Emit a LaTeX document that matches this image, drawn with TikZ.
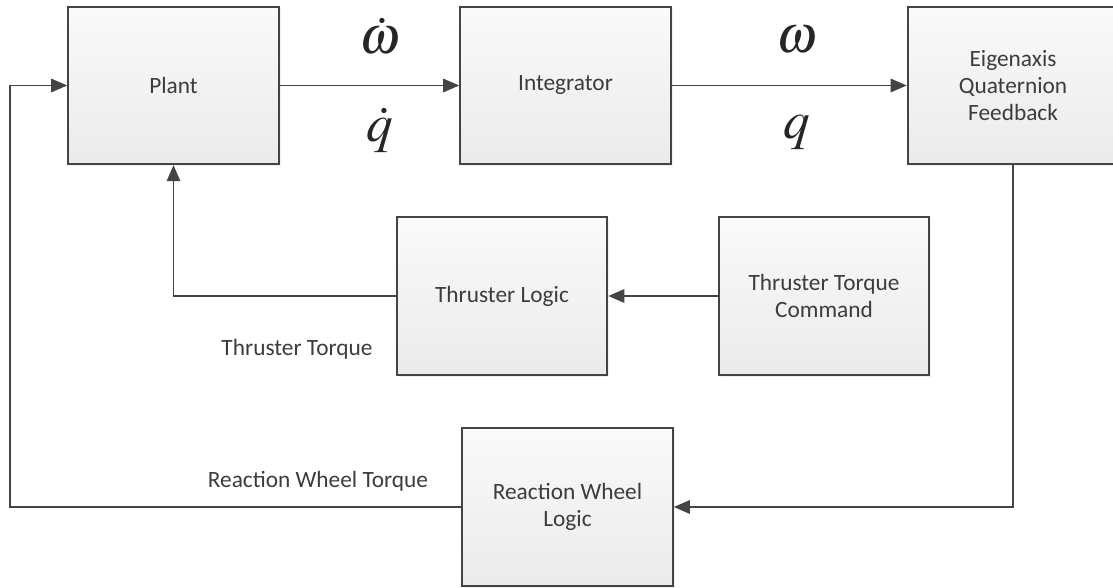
\documentclass[tikz,border=0pt]{standalone}
\usepackage{amsmath}
\usepackage{mathptmx}
\usepackage{fontspec}
\setmainfont{Carlito}
\usepackage{xcolor}
\usepackage{tikz}
\usetikzlibrary{arrows.meta,positioning,shadows}

\definecolor{edgegray}{HTML}{444444}
\definecolor{textgray}{HTML}{3C3C3C}

\begin{document}
\begin{tikzpicture}[
        x=0.75pt, y=-0.75pt,
        block/.style={
            draw=edgegray,
            line width=1.4pt,
            align=center,
            text=textgray,
            font=\fontsize{17.5}{20}\selectfont,
            minimum height=118pt,
            minimum width=158pt,
            top color=black!2,
            bottom color=black!8,
            drop shadow={shadow xshift=1.5pt, shadow yshift=-1.5pt, opacity=0.12}
        },
        arrow/.style={
            -{Triangle[length=12pt,width=10pt]},
            draw=edgegray,
            line width=1.4pt
        },
        sig/.style={
            text=black!85,
            inner sep=0pt,
            font=\fontsize{40}{44}\selectfont
        },
        lbl/.style={
            text=textgray,
            font=\fontsize{17.5}{20}\selectfont
        }
    ]

        \useasboundingbox (0,0) rectangle (1113,588);
        \clip (0,0) rectangle (1113,588);

        \node[block] (plant) at (173.5,85.5) {Plant};
        \node[block] (integ) at (565.5,85.5) {Integrator};
        \node[block] (eigen) at (1013,85.5) {Eigenaxis\\Quaternion\\Feedback};
        \node[block] (tlogic) at (502,296) {Thruster Logic};
        \node[block] (tcmd) at (824,296) {Thruster Torque\\Command};
        \node[block] (rwlogic) at (567.5,507) {Reaction Wheel\\Logic};
        \coordinate (fbcorner) at (10,507);

        \node[sig] (wdot) at (380,36) {$\dot{\omega}$};
        \node[sig] (qdot) at (380,130) {$\dot{q}$};
        \node[sig] (wrate) at (797,40) {$\omega$};
        \node[sig] (quat) at (797,132) {$q$};
        \node[lbl] (ttorque) at (297,349) {Thruster Torque};
        \node[lbl] (rwtorque) at (318,481) {Reaction Wheel Torque};

        \draw[arrow] (plant) -- (integ);
        \draw[arrow] (integ) -- (eigen);
        \draw[arrow] (eigen.south) |- (rwlogic.east);
        \draw[arrow] (tcmd) -- (tlogic);
        \draw[arrow] (tlogic.west) -| (plant.south);
        \draw[arrow] (rwlogic.west) -- (fbcorner) |- (plant.west);

    \end{tikzpicture}
\end{document}
